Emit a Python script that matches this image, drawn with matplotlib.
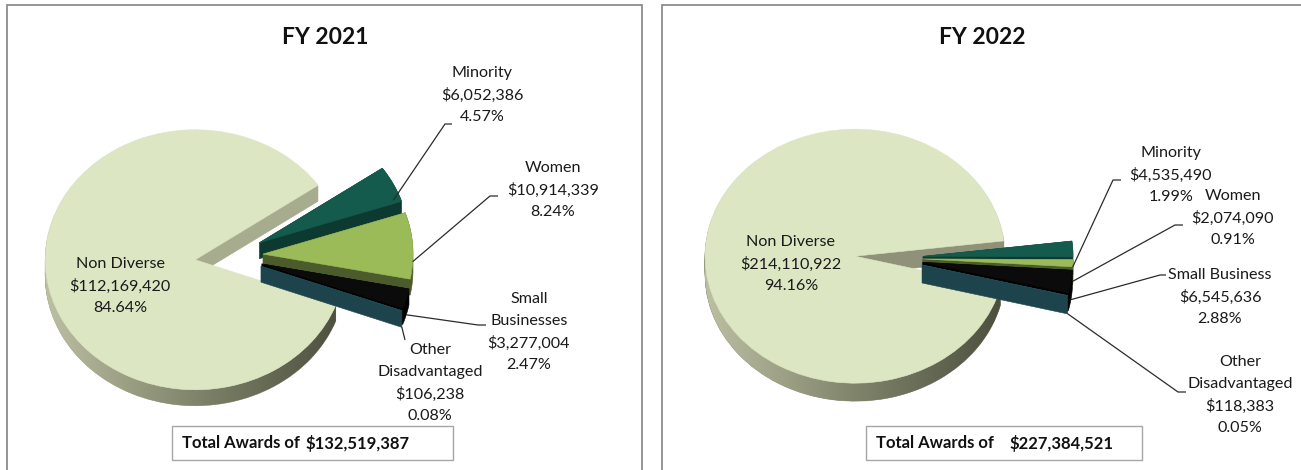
import numpy as np
import matplotlib
matplotlib.use('Agg')
import matplotlib.pyplot as plt
from matplotlib.patches import Wedge, Polygon, Rectangle
from matplotlib.colors import LinearSegmentedColormap
from matplotlib.transforms import Affine2D

plt.rcParams['font.family'] = ['Lato', 'DejaVu Sans']

W, H = 1301, 470

# data
names_2021 = ['Non Diverse', 'Minority', 'Women', 'Small\nBusinesses', 'Other\nDisadvantaged']
values_2021 = [112169420, 6052386, 10914339, 3277004, 106238]
names_2022 = ['Non Diverse', 'Minority', 'Women', 'Small Business', 'Other\nDisadvantaged']
values_2022 = [214110922, 4535490, 2074090, 6545636, 118383]

top_colors = ['#dce6c3', '#155b4d', '#9bbb59', '#0b0b0b', '#1f4a53']
side_colors = ['#a8ac8e', '#0c3a31', '#4c5b2b', '#000000', '#1d444d']
wall_cmap = LinearSegmentedColormap.from_list('wall', ['#bcbfa2', '#80846b', '#4b4e3d'])


def Y(y):
    return H - y


def hull(pts):
    # monotone chain convex hull
    p = sorted(set(map(tuple, np.round(pts, 4))))
    def cross(o, a, b):
        return (a[0] - o[0]) * (b[1] - o[1]) - (a[1] - o[1]) * (b[0] - o[0])
    lo, up = [], []
    for q in p:
        while len(lo) >= 2 and cross(lo[-2], lo[-1], q) <= 0:
            lo.pop()
        lo.append(q)
    for q in reversed(p):
        while len(up) >= 2 and cross(up[-2], up[-1], q) <= 0:
            up.pop()
        up.append(q)
    return np.array(lo[:-1] + up[:-1])


def pie3d(ax, values, cx, cy, start, rx, ry, depth, expl, nd_face):
    v = np.asarray(values, float)
    ang = v / v.sum() * 360
    t1 = start - np.concatenate([[0], np.cumsum(ang)[:-1]])
    t2 = t1 - ang
    mid = (t1 + t2) / 2
    apex = []
    z = 2
    for i in range(len(v)):
        ox = cx + expl * rx * np.cos(np.radians(mid[i]))
        oy = cy + expl * ry * np.sin(np.radians(mid[i]))
        apex.append((ox, oy))
        if ang[i] < 180:
            ts = np.radians(np.linspace(t2[i], t1[i], 60))
            top = np.vstack([[ox, oy], np.column_stack([ox + rx * np.cos(ts), oy + ry * np.sin(ts)])])
            body = hull(np.vstack([top, top - [0, depth]]))
            ax.add_patch(Polygon(body, closed=True, fc=side_colors[i], ec=side_colors[i],
                                 lw=0.4, zorder=z))
        else:
            for d in range(depth, 0, -1):
                tr = Affine2D().scale(rx, ry).translate(ox, oy - d) + ax.transData
                ax.add_patch(Wedge((0, 0), 1, t2[i], t1[i], transform=tr,
                                   fc=nd_face, ec=nd_face, lw=0.4, zorder=z))
        z += 1
        a, b = max(t2[i], -180), min(t1[i], 0)
        if i == 0 and a < b:
            ts = np.radians(np.linspace(a, b, 120))
            xs = ox + rx * np.cos(ts)
            ys = oy + ry * np.sin(ts)
            pts = np.vstack([np.column_stack([xs, ys]),
                             np.column_stack([xs[::-1], ys[::-1] - depth])])
            poly = Polygon(pts, closed=True, transform=ax.transData)
            grad = np.linspace(0, 1, 256)[None, :]
            im = ax.imshow(grad, extent=(ox - rx, ox + rx, oy - ry - depth, oy),
                           cmap=wall_cmap, aspect='auto', zorder=z,
                           interpolation='bilinear')
            im.set_clip_path(poly)
            z += 1
        tr = Affine2D().scale(rx, ry).translate(ox, oy) + ax.transData
        ax.add_patch(Wedge((0, 0), 1, t2[i], t1[i], transform=tr,
                           fc=top_colors[i], ec=top_colors[i], lw=0.4, zorder=z))
        z += 1
    return apex, mid


def panel(ax, title, names, values, cx, cy, start, ry, depth, nd_face,
          title_x, label_pos, knees, box, amount_x):
    total = sum(values)
    rx = 150
    apex, mid = pie3d(ax, values, cx, Y(cy), start, rx, ry, depth, 0.227, nd_face)
    ax.text(title_x, Y(37), title, ha='center', va='center', fontsize=16.5,
            fontweight='bold', color='#111111', zorder=50)
    for i, name in enumerate(names):
        lines = name.split('\n') + ['${:,}'.format(values[i]),
                                    '{:.2f}%'.format(values[i] / total * 100)]
        lx, ly = label_pos[i]
        for j, ln in enumerate(lines):
            ax.text(lx, Y(ly + 22 * j), ln, ha='center', va='center',
                    fontsize=11.6, color='#1a1a1a', parse_math=False, zorder=50)
        if knees[i] is None:
            continue
        ox, oy = apex[i]
        t = np.radians(mid[i])
        sx, sy = ox + rx * np.cos(t), oy + ry * np.sin(t)
        if mid[i] < -5:
            sy -= depth
        kx, ky, dx = knees[i]
        ax.plot([sx, kx, kx + dx], [sy, Y(ky), Y(ky)], color='#2b2b2b',
                lw=0.9, zorder=40, solid_capstyle='butt')
    bx0, by0, bx1, by1 = box
    ax.add_patch(Rectangle((bx0, Y(by1)), bx1 - bx0, by1 - by0, fc='white',
                           ec='#a6a6a6', lw=1.0, zorder=45))
    ax.text(bx0 + 10, Y((by0 + by1) / 2), 'Total Awards of', ha='left', va='center',
            fontsize=12, fontweight='bold', color='#111111', zorder=50)
    ax.text(amount_x, Y((by0 + by1) / 2), '${:,}'.format(total), ha='left',
            va='center', fontsize=12, fontweight='bold', color='#111111',
            parse_math=False, zorder=50)


fig = plt.figure(figsize=(W / 100, H / 100), dpi=100)
ax = fig.add_axes([0, 0, 1, 1])
ax.set_axis_off()

# panel frames
ax.add_patch(Rectangle((7, Y(475)), 635, 470, fc='none', ec='#8c8c8c', lw=1.3, zorder=1))
ax.add_patch(Rectangle((662, Y(475)), 660, 470, fc='none', ec='#8c8c8c', lw=1.3, zorder=1))

panel(ax, 'FY 2021', names_2021, values_2021, 229, 256, -20.3, 130, 16, '#a8ac8e',
      325,
      [(120, 264), (482, 73), (553, 168), (529, 299), (430, 350)],
      [None, (445, 124, 7), (490, 196, 8), (478, 325, 8), (405, 340, 0)],
      (172, 426, 453, 460), 306)

panel(ax, 'FY 2022', names_2022, values_2022, 889, 258, -14.1, 127, 18, '#8f9279',
      982,
      [(791, 242), (1171, 153), (1233, 196), (1220, 275), (1240, 362)],
      [None, (1113, 180, 8), (1175, 225, 8), (1160, 275, 6), (1178, 392, 8)],
      (866, 426, 1142, 460), 1010)

ax.set_xlim(0, W)
ax.set_ylim(0, H)
fig.savefig('out.png', dpi=100)
